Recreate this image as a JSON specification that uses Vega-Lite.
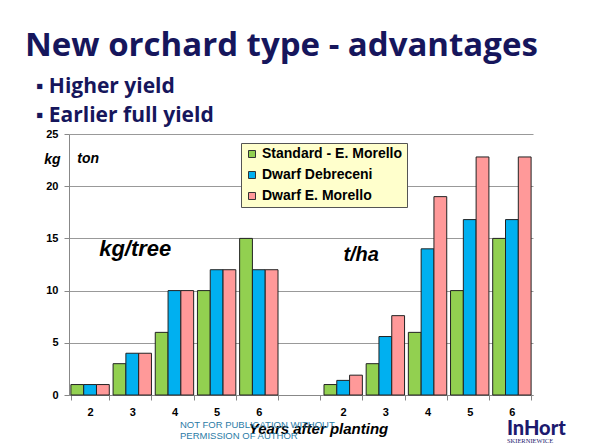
{
  "$schema": "https://vega.github.io/schema/vega-lite/v6.json",
  "width": 464,
  "height": 261,
  "autosize": "none",
  "padding": {"left": 69, "top": 134, "right": 59, "bottom": 50},
  "background": "#ffffff",
  "title": {
    "text": "New orchard type - advantages",
    "subtitle": ["\u200b\u00a0\u00a0▪\u00a0Higher yield", "\u200b\u00a0\u00a0▪\u00a0Earlier full yield"]
  },
  "datasets": {
    "bars": [
      {"cat": "a2", "series": "Standard - E. Morello", "value": 1},
      {"cat": "a2", "series": "Dwarf Debreceni", "value": 1},
      {"cat": "a2", "series": "Dwarf E. Morello", "value": 1},
      {"cat": "a3", "series": "Standard - E. Morello", "value": 3},
      {"cat": "a3", "series": "Dwarf Debreceni", "value": 4},
      {"cat": "a3", "series": "Dwarf E. Morello", "value": 4},
      {"cat": "a4", "series": "Standard - E. Morello", "value": 6},
      {"cat": "a4", "series": "Dwarf Debreceni", "value": 10},
      {"cat": "a4", "series": "Dwarf E. Morello", "value": 10},
      {"cat": "a5", "series": "Standard - E. Morello", "value": 10},
      {"cat": "a5", "series": "Dwarf Debreceni", "value": 12},
      {"cat": "a5", "series": "Dwarf E. Morello", "value": 12},
      {"cat": "a6", "series": "Standard - E. Morello", "value": 15},
      {"cat": "a6", "series": "Dwarf Debreceni", "value": 12},
      {"cat": "a6", "series": "Dwarf E. Morello", "value": 12},
      {"cat": "b2", "series": "Standard - E. Morello", "value": 1},
      {"cat": "b2", "series": "Dwarf Debreceni", "value": 1.4},
      {"cat": "b2", "series": "Dwarf E. Morello", "value": 1.9},
      {"cat": "b3", "series": "Standard - E. Morello", "value": 3},
      {"cat": "b3", "series": "Dwarf Debreceni", "value": 5.6},
      {"cat": "b3", "series": "Dwarf E. Morello", "value": 7.6},
      {"cat": "b4", "series": "Standard - E. Morello", "value": 6},
      {"cat": "b4", "series": "Dwarf Debreceni", "value": 14},
      {"cat": "b4", "series": "Dwarf E. Morello", "value": 19},
      {"cat": "b5", "series": "Standard - E. Morello", "value": 10},
      {"cat": "b5", "series": "Dwarf Debreceni", "value": 16.8},
      {"cat": "b5", "series": "Dwarf E. Morello", "value": 22.8},
      {"cat": "b6", "series": "Standard - E. Morello", "value": 15},
      {"cat": "b6", "series": "Dwarf Debreceni", "value": 16.8},
      {"cat": "b6", "series": "Dwarf E. Morello", "value": 22.8}
    ],
    "notes": [
      {"kind": "kgtree", "label": "kg/tree", "cat": "a3", "value": 13.3},
      {"kind": "tha", "label": "t/ha", "cat": "b2", "value": 12.8},
      {"kind": "ton", "label": "ton", "cat": "a2", "value": 22.2},
      {"kind": "footer", "label": "NOT FOR PUBLICATION WITHOUT", "cat": "a4", "value": -3.16},
      {"kind": "footer", "label": "PERMISSION OF AUTHOR", "cat": "a4", "value": -4.21},
      {"kind": "logo", "label": "InHort", "cat": "b6", "value": -3.8},
      {"kind": "logosub", "label": "SKIERNIEWICE", "cat": "b6", "value": -4.62}
    ]
  },
  "encoding": {
    "x": {
      "field": "cat",
      "type": "nominal",
      "scale": {
        "domain": ["a2", "a3", "a4", "a5", "a6", "g", "b2", "b3", "b4", "b5", "b6"],
        "paddingInner": 0.09,
        "paddingOuter": 0.045
      },
      "axis": {
        "labelExpr": "isString(datum.value) && datum.value != 'g' ? substring(datum.value, 1) : ''",
        "labelAngle": 0,
        "tickBand": "extent",
        "tickSize": 5,
        "tickColor": "#888888",
        "domainColor": "#888888",
        "labelFont": "Liberation Sans",
        "labelFontWeight": "bold",
        "labelFontSize": 11,
        "labelColor": "#000000",
        "labelPadding": 6,
        "grid": false,
        "title": "Years after planting",
        "titleFont": "Liberation Sans",
        "titleFontStyle": "italic",
        "titleFontWeight": "bold",
        "titleFontSize": 15,
        "titleColor": "#000000",
        "titleX": 249,
        "titleY": 38,
        "titleAlign": "center",
        "titleBaseline": "alphabetic"
      }
    },
    "y": {
      "field": "value",
      "type": "quantitative",
      "scale": {"domain": [0, 25], "nice": false},
      "axis": {
        "values": [0, 5, 10, 15, 20, 25],
        "grid": true,
        "gridColor": "#999999",
        "domainColor": "#888888",
        "tickColor": "#888888",
        "tickSize": 5,
        "labelPadding": 6,
        "labelFont": "Liberation Sans",
        "labelFontWeight": "bold",
        "labelFontSize": 11,
        "labelColor": "#000000",
        "title": "kg",
        "titleAngle": 0,
        "titleX": -17,
        "titleY": 29,
        "titleAlign": "center",
        "titleBaseline": "alphabetic",
        "titleFont": "Liberation Sans",
        "titleFontStyle": "italic",
        "titleFontWeight": "bold",
        "titleFontSize": 14,
        "titleColor": "#000000"
      }
    }
  },
  "layer": [
    {
      "data": {"name": "bars"},
      "mark": {"type": "bar", "stroke": "#222222", "strokeWidth": 1},
      "encoding": {
        "xOffset": {
          "field": "series",
          "type": "nominal",
          "scale": {"domain": ["Standard - E. Morello", "Dwarf Debreceni", "Dwarf E. Morello"], "paddingInner": 0, "paddingOuter": 0}
        },
        "color": {
          "field": "series",
          "type": "nominal",
          "scale": {
            "domain": ["Standard - E. Morello", "Dwarf Debreceni", "Dwarf E. Morello"],
            "range": ["#92D050", "#00B0F0", "#FF9999"]
          },
          "legend": {
            "orient": "none",
            "legendX": 172,
            "legendY": 9,
            "title": null,
            "fillColor": "#FFFFCC",
            "strokeColor": "#555555",
            "padding": 4,
            "symbolType": "square",
            "symbolSize": 49,
            "symbolStrokeColor": "#333333",
            "symbolStrokeWidth": 1,
            "labelFont": "Liberation Sans",
            "labelFontWeight": "bold",
            "labelFontSize": 14,
            "labelColor": "#000000",
            "labelOffset": 3,
            "rowPadding": 7,
            "labelLimit": 200
          }
        }
      }
    },
    {
      "data": {"name": "notes"},
      "transform": [{"filter": "datum.kind == 'kgtree'"}],
      "mark": {"type": "text", "font": "Liberation Sans", "fontStyle": "italic", "fontWeight": "bold", "fontSize": 22, "align": "center", "baseline": "alphabetic", "dx": 3, "color": "#000000"},
      "encoding": {"text": {"field": "label"}}
    },
    {
      "data": {"name": "notes"},
      "transform": [{"filter": "datum.kind == 'tha'"}],
      "mark": {"type": "text", "font": "Liberation Sans", "fontStyle": "italic", "fontWeight": "bold", "fontSize": 20, "align": "center", "baseline": "alphabetic", "dx": 18, "color": "#000000"},
      "encoding": {"text": {"field": "label"}}
    },
    {
      "data": {"name": "notes"},
      "transform": [{"filter": "datum.kind == 'ton'"}],
      "mark": {"type": "text", "font": "Liberation Sans", "fontStyle": "italic", "fontWeight": "bold", "fontSize": 14, "align": "center", "baseline": "alphabetic", "dx": -2, "color": "#000000"},
      "encoding": {"text": {"field": "label"}}
    },
    {
      "data": {"name": "notes"},
      "transform": [{"filter": "datum.kind == 'footer'"}],
      "mark": {"type": "text", "font": "Liberation Sans", "fontSize": 9.5, "align": "left", "baseline": "alphabetic", "dx": 5.5, "color": "#2B7BA6"},
      "encoding": {"text": {"field": "label"}}
    },
    {
      "data": {"name": "notes"},
      "transform": [{"filter": "datum.kind == 'logo'"}],
      "mark": {"type": "text", "font": "Lato", "fontSize": 20, "fontWeight": 900, "align": "left", "baseline": "alphabetic", "dx": -5, "color": "#1C1A6E"},
      "encoding": {"text": {"field": "label"}}
    },
    {
      "data": {"name": "notes"},
      "transform": [{"filter": "datum.kind == 'logosub'"}],
      "mark": {"type": "text", "font": "Liberation Serif", "fontSize": 6.5, "align": "left", "baseline": "alphabetic", "dx": -5, "color": "#1C1A6E"},
      "encoding": {"text": {"field": "label"}}
    }
  ],
  "config": {
    "view": {"stroke": null},
    "title": {
      "font": "Open Sans",
      "fontSize": 33,
      "fontWeight": "bold",
      "color": "#16165C",
      "anchor": "start",
      "frame": "group",
      "dx": -44,
      "offset": 2,
      "subtitleFont": "Open Sans",
      "subtitleFontSize": 21,
      "subtitleFontWeight": "bold",
      "subtitleColor": "#16165C",
      "subtitlePadding": 13,
      "subtitleLineHeight": 29
    }
  }
}
